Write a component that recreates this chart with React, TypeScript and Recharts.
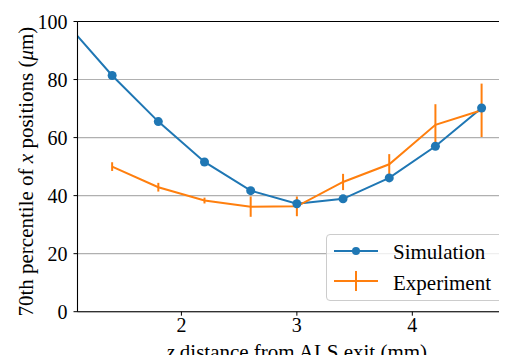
import React from 'react';
import { ComposedChart, Line, XAxis, YAxis, CartesianGrid, ErrorBar, ReferenceLine, Legend } from 'recharts';

const simZ = [1.0, 1.4, 1.8, 2.2, 2.6, 3.0, 3.4, 3.8, 4.2, 4.6];
const simVals = [99.5, 81.4, 65.5, 51.6, 41.7, 37.2, 38.9, 46.1, 57.0, 70.2];
const expZ = [1.4, 1.8, 2.2, 2.6, 3.0, 3.4, 3.8, 4.2, 4.6];
const expVals = [50.0, 42.9, 38.3, 36.2, 36.3, 44.7, 50.8, 64.4, 69.4];
const expErr = [1.5, 1.5, 1.0, 3.5, 3.4, 2.8, 3.5, 7.1, 9.2];
const xTicks = [2, 3, 4];
const yTicks = [0, 20, 40, 60, 80, 100];
const seriesNames = ['Simulation', 'Experiment'];

const simData = simZ.map((z, i) => ({ z, y: simVals[i] }));
const expData = expZ.map((z, i) => ({ z, y: expVals[i], err: expErr[i] }));

const BLUE = '#1f77b4';
const ORANGE = '#ff7f0e';
const FONT = 'Liberation Serif';

const YLabel = (props: any) => {
  const vb = props.viewBox || {};
  const cy = (vb.y ?? 21) + (vb.height ?? 290) / 2 + 5;
  const cx = 33.5;
  return (
    <text x={cx} y={cy} transform={`rotate(-90, ${cx}, ${cy})`} textAnchor="middle"
      fontFamily={FONT} fontSize={21} fill="#000">
      70th percentile of <tspan fontStyle="italic">x</tspan> positions (<tspan fontStyle="italic">μ</tspan>m)
    </text>
  );
};

const XLabel = (props: any) => {
  const vb = props.viewBox || {};
  const cx = (vb.x ?? 77.5) + (vb.width ?? 430) / 2 + 4.5;
  return (
    <text x={cx} y={359} textAnchor="middle" fontFamily={FONT} fontSize={21} fill="#000">
      <tspan fontStyle="italic">z</tspan> distance from ALS exit (mm)
    </text>
  );
};

const LegendBox = () => (
  <div style={{
    width: 179, height: 67, boxSizing: 'border-box', border: '1px solid #cccccc', borderRadius: 4,
    background: 'rgba(255,255,255,0.8)', position: 'relative',
  }}>
    <svg width={177} height={65} style={{ position: 'absolute', left: 0, top: 0 }}>
      <line x1={7} x2={51} y1={16} y2={16} stroke={BLUE} strokeWidth={2} />
      <circle cx={29} cy={16} r={4} fill={BLUE} />
      <text x={66} y={23.5} fontFamily={FONT} fontSize={21} fill="#000">{seriesNames[0]}</text>
      <line x1={7} x2={51} y1={46} y2={46} stroke={ORANGE} strokeWidth={2} />
      <line x1={29} x2={29} y1={36} y2={56} stroke={ORANGE} strokeWidth={2} />
      <text x={66} y={54.5} fontFamily={FONT} fontSize={21} fill="#000">{seriesNames[1]}</text>
    </svg>
  </div>
);

export default function App() {
  return (
    <div style={{ margin: '-8px -8px -8px -8px', width: 507, height: 363 }}>
      <ComposedChart width={507} height={363} margin={{ top: 21.5, right: 0, bottom: 0, left: 0 }}>
        <CartesianGrid horizontal vertical={false} stroke="#b0b0b0" strokeWidth={1.1} />
        <XAxis
          dataKey="z" type="number" domain={[1.1, 4.82]} allowDataOverflow ticks={xTicks}
          height={51.3} tickSize={4} tickMargin={2.5}
          tickLine={{ stroke: '#000' }} axisLine={{ stroke: '#000', strokeWidth: 1.1 }}
          tick={{ fill: '#000', fontSize: 20, fontFamily: FONT }}
          label={<XLabel />}
        />
        <YAxis
          type="number" domain={[0, 100]} ticks={yTicks}
          width={77.5} tickSize={4} tickMargin={6}
          tickLine={{ stroke: '#000' }} axisLine={{ stroke: '#000', strokeWidth: 1.1 }}
          tick={{ fill: '#000', fontSize: 20, fontFamily: FONT }}
          label={<YLabel />}
        />
        <ReferenceLine y={100} stroke="#000" strokeWidth={1.1} />
        <Line data={simData} dataKey="y" name={seriesNames[0]} stroke={BLUE} strokeWidth={2}
          dot={{ r: 4.5, fill: BLUE, stroke: BLUE, strokeWidth: 0 }} activeDot={false}
          isAnimationActive={false} />
        <Line data={expData} dataKey="y" name={seriesNames[1]} stroke={ORANGE} strokeWidth={2}
          dot={false} activeDot={false} isAnimationActive={false}>
          <ErrorBar dataKey="err" direction="y" width={0} stroke={ORANGE} strokeWidth={2} isAnimationActive={false} />
        </Line>
        <Legend layout="horizontal" align="center" verticalAlign="middle"
          wrapperStyle={{ position: 'absolute', left: 326, top: 234, width: 179, height: 67 }}
          content={() => <LegendBox />} />
      </ComposedChart>
    </div>
  );
}
